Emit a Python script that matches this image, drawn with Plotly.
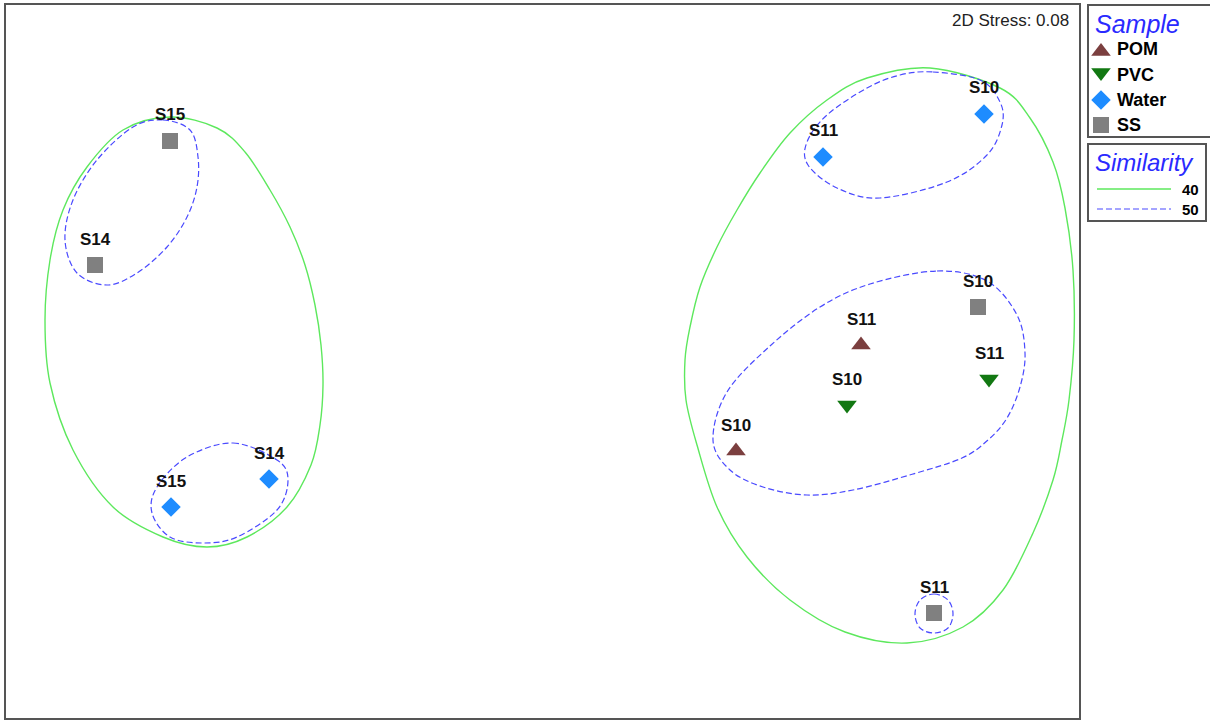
import plotly.graph_objects as go

# ---------------- data (nMDS coordinates) ----------------
groups = ["POM", "PVC", "Water", "SS"]

pom_labels = ["S11", "S10"]
pom_x = [3.21, 1.96]
pom_y = [0.15, -0.91]

pvc_labels = ["S11", "S10"]
pvc_x = [4.49, 3.07]
pvc_y = [-0.19, -0.45]

water_labels = ["S15", "S14", "S10", "S11"]
water_x = [-3.69, -2.71, 4.44, 2.83]
water_y = [-1.47, -1.19, 2.46, 2.03]

ss_labels = ["S15", "S14", "S10", "S11"]
ss_x = [-3.70, -4.45, 4.38, 3.94]
ss_y = [2.19, 0.95, 0.53, -2.53]

stress_text = "2D Stress: 0.08"
similarity_levels = ["40", "50"]

# similarity contours (outline points)
sim40_left_x = [-3.70, -3.23, -2.95, -2.70, -2.50, -2.35, -2.25, -2.19, -2.17, -2.20, -2.29, -2.53,
                -2.93, -3.33, -3.77, -4.27, -4.67, -4.90, -4.95, -4.90, -4.77, -4.53, -4.17]
sim40_left_y = [2.43, 2.32, 2.08, 1.70, 1.33, 0.95, 0.55, 0.15, -0.25, -0.65, -1.05, -1.47,
                -1.77, -1.87, -1.77, -1.47, -0.90, -0.23, 0.40, 1.00, 1.50, 1.93, 2.30]

sim40_right_x = [3.90, 4.60, 4.90, 5.13, 5.25, 5.33, 5.34, 5.29, 5.22, 5.13, 4.93, 4.63, 4.23, 3.67,
                 3.05, 2.50, 2.07, 1.77, 1.57, 1.46, 1.45, 1.50, 1.60, 1.77, 1.97, 2.20, 2.50,
                 2.87, 3.27]
sim40_right_y = [2.92, 2.72, 2.42, 1.98, 1.52, 0.90, 0.20, -0.40, -0.80, -1.20, -1.73, -2.30, -2.67,
                 -2.83, -2.72, -2.40, -1.97, -1.47, -0.85, -0.40, 0.00, 0.33, 0.73, 1.13, 1.50,
                 1.87, 2.27, 2.60, 2.82]

sim50_lefttop_x = [-3.77, -3.50, -3.42, -3.43, -3.53, -3.73, -4.03, -4.33, -4.63, -4.75, -4.67, -4.43, -4.07]
sim50_lefttop_y = [2.40, 2.30, 2.03, 1.73, 1.43, 1.13, 0.87, 0.75, 0.87, 1.20, 1.60, 2.00, 2.33]

sim50_leftbot_x = [-3.07, -2.63, -2.52, -2.63, -3.03, -3.37, -3.70, -3.88, -3.83, -3.53]
sim50_leftbot_y = [-0.83, -1.00, -1.20, -1.50, -1.77, -1.83, -1.77, -1.53, -1.27, -0.97]

sim50_righttop_x = [3.93, 4.40, 4.60, 4.62, 4.47, 4.07, 3.40, 2.97, 2.68, 2.67, 2.87, 3.27, 3.60]
sim50_righttop_y = [2.88, 2.80, 2.58, 2.35, 2.05, 1.78, 1.62, 1.72, 1.95, 2.18, 2.45, 2.72, 2.85]

sim50_rightmid_x = [3.97, 4.47, 4.77, 4.85, 4.80, 4.67, 4.48, 4.22, 3.73, 3.13, 2.67, 2.23,
                    1.90, 1.73, 1.87, 2.30, 2.80, 3.30]
sim50_rightmid_y = [0.89, 0.79, 0.45, 0.07, -0.27, -0.58, -0.80, -0.98, -1.14, -1.30, -1.35, -1.27,
                    -1.10, -0.80, -0.32, 0.14, 0.53, 0.76]

sim50_rightbot_x = [3.94, 4.08, 4.13, 4.08, 3.94, 3.80, 3.75, 3.80]
sim50_rightbot_y = [-2.34, -2.40, -2.54, -2.68, -2.73, -2.68, -2.54, -2.40]

# ---------------- styles ----------------
FONT = "Arial, Liberation Sans, sans-serif"
colors = {"POM": "#7b3f3f", "PVC": "#127812", "Water": "#1e8cff", "SS": "#808080"}
symbols = {"POM": "triangle-up", "PVC": "triangle-down", "Water": "diamond", "SS": "square"}
sizes = {"POM": 17, "PVC": 17, "Water": 15, "SS": 16}
GREEN = "#5de85d"
BLUE = "#4a4aff"
FRAME = "#555555"

data = {
    "POM": (pom_x, pom_y, pom_labels),
    "PVC": (pvc_x, pvc_y, pvc_labels),
    "Water": (water_x, water_y, water_labels),
    "SS": (ss_x, ss_y, ss_labels),
}


def smooth_closed_path(xs, ys):
    """Closed smooth outline through the given points (Catmull-Rom as cubic Bezier)."""
    n = len(xs)
    parts = ["M%.4f,%.4f" % (xs[0], ys[0])]
    for i in range(n):
        i0, i1, i2, i3 = (i - 1) % n, i, (i + 1) % n, (i + 2) % n
        c1x = xs[i1] + (xs[i2] - xs[i0]) / 6.0
        c1y = ys[i1] + (ys[i2] - ys[i0]) / 6.0
        c2x = xs[i2] - (xs[i3] - xs[i1]) / 6.0
        c2y = ys[i2] - (ys[i3] - ys[i1]) / 6.0
        parts.append("C%.4f,%.4f %.4f,%.4f %.4f,%.4f" % (c1x, c1y, c2x, c2y, xs[i2], ys[i2]))
    parts.append("Z")
    return " ".join(parts)


contours = [
    (sim40_left_x, sim40_left_y, "40"),
    (sim40_right_x, sim40_right_y, "40"),
    (sim50_lefttop_x, sim50_lefttop_y, "50"),
    (sim50_leftbot_x, sim50_leftbot_y, "50"),
    (sim50_righttop_x, sim50_righttop_y, "50"),
    (sim50_rightmid_x, sim50_rightmid_y, "50"),
    (sim50_rightbot_x, sim50_rightbot_y, "50"),
]

shapes = []
for cx, cy, lvl in contours:
    if lvl == "40":
        ln = dict(color=GREEN, width=1.4)
    else:
        ln = dict(color=BLUE, width=1.2, dash="6px,3px")
    shapes.append(dict(type="path", xref="x", yref="y", path=smooth_closed_path(cx, cy),
                       line=ln, fillcolor="rgba(0,0,0,0)", layer="below"))

fig = go.Figure()

annotations = []
for g in groups:
    gx, gy, gl = data[g]
    fig.add_trace(go.Scatter(x=gx, y=gy, mode="markers", name=g,
                             marker=dict(symbol=symbols[g], size=sizes[g], color=colors[g],
                                         line=dict(width=0)),
                             text=gl, showlegend=False, xaxis="x", yaxis="y"))
    for xx, yy, lab in zip(gx, gy, gl):
        annotations.append(dict(x=xx, y=yy, xref="x", yref="y", text="<b>%s</b>" % lab,
                                showarrow=False, yshift=26,
                                font=dict(family=FONT, size=17, color="#111111")))

# ---------------- legend (drawn in a pixel-space overlay axis) ----------------
leg_rows = [49, 75, 100, 125]
for g, ry in zip(groups, leg_rows):
    off = {"POM": 2.5, "PVC": -2.5}.get(g, 0)
    fig.add_trace(go.Scatter(x=[1101], y=[ry + off], mode="markers",
                             marker=dict(symbol=symbols[g], size=sizes[g], color=colors[g],
                                         line=dict(width=0)),
                             hoverinfo="skip", showlegend=False, xaxis="x2", yaxis="y2"))
    annotations.append(dict(x=1115, y=ry, xref="x2", yref="y2", text="<b>%s</b>" % g,
                            showarrow=False, xanchor="left", yanchor="middle",
                            font=dict(family=FONT, size=18, color="#000000")))

annotations.append(dict(x=1093, y=24, xref="x2", yref="y2", text="<i>Sample</i>",
                        showarrow=False, xanchor="left", yanchor="middle",
                        font=dict(family=FONT, size=25, color="#2a2aff")))
annotations.append(dict(x=1093, y=162, xref="x2", yref="y2", text="<i>Similarity</i>",
                        showarrow=False, xanchor="left", yanchor="middle",
                        font=dict(family=FONT, size=24, color="#2a2aff")))
for lvl, ry in zip(similarity_levels, [189, 209]):
    annotations.append(dict(x=1201, y=ry, xref="x2", yref="y2", text="<b>%s</b>" % lvl,
                            showarrow=False, xanchor="right", yanchor="middle",
                            font=dict(family=FONT, size=15, color="#000000")))
annotations.append(dict(x=1071, y=20, xref="x2", yref="y2", text=stress_text,
                        showarrow=False, xanchor="right", yanchor="middle",
                        font=dict(family=FONT, size=17, color="#222222")))

shapes += [
    dict(type="rect", xref="x2", yref="y2", x0=1088, x1=1214, y0=5, y1=137,
         line=dict(color=FRAME, width=2), fillcolor="rgba(0,0,0,0)"),
    dict(type="rect", xref="x2", yref="y2", x0=1088, x1=1206, y0=144, y1=221,
         line=dict(color=FRAME, width=2), fillcolor="rgba(0,0,0,0)"),
    dict(type="line", xref="x2", yref="y2", x0=1097, x1=1171, y0=189, y1=189,
         line=dict(color=GREEN, width=1.4)),
    dict(type="line", xref="x2", yref="y2", x0=1097, x1=1171, y0=209, y1=209,
         line=dict(color=BLUE, width=1.2, dash="6px,3px")),
]

W, H = 1210, 720
fig.update_layout(
    width=W, height=H,
    margin=dict(l=0, r=0, t=0, b=0),
    paper_bgcolor="white", plot_bgcolor="rgba(0,0,0,0)",
    showlegend=False,
    annotations=annotations, shapes=shapes,
    xaxis=dict(domain=[6 / W, 1079 / W], range=[-5.34, 5.39], showgrid=False, zeroline=False,
               showticklabels=False, ticks="", showline=True, mirror=True,
               linecolor=FRAME, linewidth=2, fixedrange=True),
    yaxis=dict(domain=[(H - 718) / H, (H - 5) / H], range=[-3.58, 3.55], showgrid=False,
               zeroline=False, showticklabels=False, ticks="", showline=True, mirror=True,
               linecolor=FRAME, linewidth=2, fixedrange=True),
    xaxis2=dict(domain=[0, 1], range=[0, W], visible=False, anchor="y2", fixedrange=True),
    yaxis2=dict(domain=[0, 1], range=[H, 0], visible=False, anchor="x2", fixedrange=True),
)

fig.write_html("out.html", config={"displayModeBar": False},
               post_script="document.body.style.margin='0';document.body.style.overflow='hidden';")
